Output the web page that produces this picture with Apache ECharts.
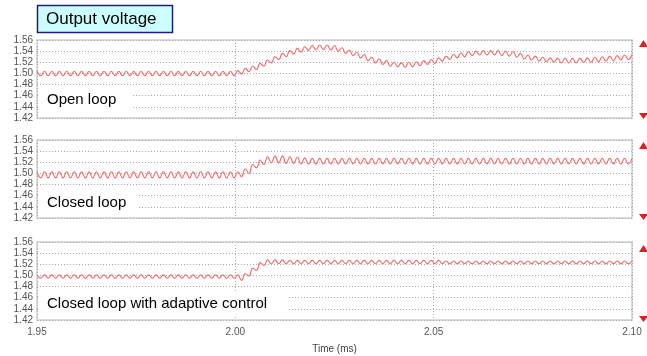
<!DOCTYPE html>
<html>
<head>
<meta charset="utf-8">
<script src="https://cdn.jsdelivr.net/npm/echarts@6/dist/echarts.min.js"></script>
<style>html,body{margin:0;padding:0;background:#fff;}#c{width:647px;height:356px;}</style>
</head>
<body>
<div id="c"></div>
<script>
// sample times: start and half-ripple step (ms)
const T0 = 1.95;
const DT = 0.0009375;
const xTicks = [1.95, 2.00, 2.05, 2.10];
const yTicks = [1.42, 1.44, 1.46, 1.48, 1.50, 1.52, 1.54, 1.56];
const panelLabels = ['Open loop', 'Closed loop', 'Closed loop with adaptive control'];

const openLoop = [
1.504,1.496,1.504,1.496,1.504,1.496,1.504,1.496,1.504,1.496,
1.504,1.496,1.504,1.496,1.504,1.496,1.504,1.496,1.504,1.496,
1.504,1.496,1.504,1.496,1.504,1.496,1.504,1.496,1.504,1.496,
1.504,1.496,1.504,1.496,1.504,1.496,1.504,1.496,1.504,1.496,
1.504,1.496,1.504,1.496,1.504,1.496,1.504,1.496,1.504,1.496,
1.504,1.496,1.504,1.496,
1.505,1.499,1.509,1.503,1.513,1.507,1.518,1.513,1.524,1.519,
1.530,1.525,1.536,1.530,1.541,1.535,1.545,1.538,1.548,1.541,
1.550,1.543,1.551,1.543,1.551,1.542,1.550,1.540,1.546,1.536,
1.542,1.532,1.538,1.528,1.534,1.523,1.529,1.519,1.526,1.516,
1.523,1.513,1.520,1.512,1.519,1.511,1.520,1.512,1.521,1.514,
1.523,1.516,1.525,1.518,1.528,1.522,1.531,1.525,1.534,1.528,
1.537,1.530,1.539,1.532,1.540,1.533,1.541,1.533,1.541,1.533,
1.541,1.532,1.540,1.531,1.539,1.529,1.536,1.526,1.533,1.524,
1.531,1.522,1.529,1.521,1.528,1.520,1.527,1.519,1.527,1.519,
1.527,1.519,1.527,1.520,1.528,1.520,1.529,1.521,1.530,1.522,
1.531,1.523,1.532,1.524,1.533,1.525,1.534
];

const closedLoop = [
1.503,1.492,1.503,1.492,1.503,1.492,1.503,1.492,1.503,1.492,
1.503,1.492,1.503,1.492,1.503,1.492,1.503,1.492,1.503,1.492,
1.503,1.492,1.503,1.492,1.503,1.492,1.503,1.492,1.503,1.492,
1.503,1.492,1.503,1.492,1.503,1.492,1.503,1.492,1.503,1.492,
1.503,1.492,1.503,1.492,1.503,1.492,1.503,1.492,1.503,1.492,
1.503,1.492,1.503,1.492,
1.503,1.494,1.508,1.500,1.516,1.510,1.524,1.516,1.530,1.519,
1.531,1.519,1.531,1.518,1.530,1.518,1.529,1.517,1.528,1.517,
1.527,1.517,1.527,1.517,1.527,1.517,1.527,1.517,1.527,1.517,
1.527,1.517,1.527,1.517,1.527,1.517,1.527,1.517,1.527,1.517,
1.527,1.517,1.527,1.517,1.527,1.517,1.527,1.517,1.527,1.517,
1.527,1.517,1.527,1.517,1.527,1.517,1.527,1.517,1.527,1.517,
1.527,1.517,1.527,1.517,1.527,1.517,1.527,1.517,1.527,1.517,
1.527,1.517,1.527,1.517,1.527,1.517,1.527,1.517,1.527,1.517,
1.527,1.517,1.527,1.517,1.527,1.517,1.527,1.517,1.527,1.517,
1.527,1.517,1.527,1.517,1.527,1.517,1.527,1.517,1.527,1.517,
1.527,1.517,1.527,1.517,1.527,1.517,1.527
];

const adaptive = [
1.501,1.495,1.501,1.495,1.501,1.495,1.501,1.495,1.501,1.495,
1.501,1.495,1.501,1.495,1.501,1.495,1.501,1.495,1.501,1.495,
1.501,1.495,1.501,1.495,1.501,1.495,1.501,1.495,1.501,1.495,
1.501,1.495,1.501,1.495,1.501,1.495,1.501,1.495,1.501,1.495,
1.501,1.495,1.501,1.495,1.501,1.495,1.501,1.495,1.501,1.495,
1.501,1.495,1.501,1.495,
1.501,1.491,1.503,1.499,1.513,1.509,1.523,1.518,1.528,1.521,
1.528,1.521,1.528,1.521,1.527,1.521,1.527,1.521,1.527,1.521,
1.527,1.521,1.527,1.521,1.527,1.521,1.527,1.521,1.527,1.521,
1.527,1.521,1.527,1.521,1.527,1.521,1.527,1.521,1.527,1.521,
1.527,1.521,1.527,1.521,1.527,1.521,1.527,1.521,1.527,1.521,
1.527,1.521,1.527,1.521,1.527,1.521,1.526,1.521,1.526,1.521,
1.526,1.521,1.526,1.521,1.526,1.521,1.526,1.521,1.526,1.521,
1.526,1.521,1.526,1.521,1.526,1.521,1.526,1.521,1.526,1.521,
1.526,1.521,1.526,1.521,1.526,1.521,1.526,1.521,1.526,1.521,
1.526,1.521,1.526,1.521,1.526,1.521,1.526,1.521,1.526,1.521,
1.526,1.521,1.526,1.521,1.526,1.521,1.526
];

const seriesValues = [openLoop, closedLoop, adaptive];
const FONT = '"Liberation Sans", Arial, sans-serif';
const gridTops = [40, 140, 242];
const GH = 78;

const chart = echarts.init(document.getElementById('c'), null, {renderer: 'canvas'});

const grids = [], xAxes = [], yAxes = [], series = [], graphics = [];
gridTops.forEach((top, k) => {
  grids.push({left: 37, right: 15, top: top, height: GH, show: true,
    backgroundColor: '#fff', borderColor: '#cfcfcf', borderWidth: 1.5});
  xAxes.push({
    gridIndex: k, type: 'value', min: xTicks[0], max: xTicks[xTicks.length - 1], interval: 0.05,
    axisLine: {show: false}, axisTick: {show: false},
    axisLabel: {show: k === 2, formatter: v => v.toFixed(2), color: '#555', fontSize: 10, fontFamily: FONT, margin: 7},
    splitLine: {show: true, lineStyle: {type: [1, 2], color: '#aaa', width: 1}},
    name: k === 2 ? 'Time (ms)' : '', nameLocation: 'middle', nameGap: 24,
    nameTextStyle: {fontSize: 10, color: '#444', fontFamily: FONT}
  });
  yAxes.push({
    gridIndex: k, type: 'value', min: yTicks[0], max: yTicks[yTicks.length - 1], interval: 0.02,
    axisLine: {show: false}, axisTick: {show: false},
    axisLabel: {formatter: v => v.toFixed(2), color: '#555', fontSize: 10, fontFamily: FONT, margin: 4},
    splitLine: {show: true, lineStyle: {type: [1, 2], color: '#aaa', width: 1}}
  });
  series.push({
    type: 'line', xAxisIndex: k, yAxisIndex: k, showSymbol: false, smooth: 0.5,
    lineStyle: {color: '#f06a6a', width: 1.1}, silent: true,
    data: seriesValues[k].map((v, i) => [T0 + i * DT, v])
  });
});

// panel label boxes
const labelBoxes = [
  {x: 39, y: 88, w: 92, h: 24, ty: 100},
  {x: 39, y: 190, w: 100, h: 25, ty: 203},
  {x: 39, y: 292, w: 248, h: 25, ty: 304}
];
labelBoxes.forEach((b, k) => {
  graphics.push({type: 'rect', z: 100, shape: {x: b.x, y: b.y, width: b.w, height: b.h}, style: {fill: '#fff'}});
  graphics.push({type: 'text', z: 101, x: 47, y: b.ty, style: {text: panelLabels[k], font: '15px ' + FONT, fill: '#000', textVerticalAlign: 'middle', verticalAlign: 'middle'}});
});

// title box
graphics.push({type: 'rect', z: 100, shape: {x: 37.5, y: 5.5, width: 135, height: 27}, style: {fill: '#ccfefe', stroke: '#1e1e82', lineWidth: 1.5}});
graphics.push({type: 'text', z: 101, x: 46, y: 19.5, style: {text: 'Output voltage', font: '17px ' + FONT, fill: '#000', verticalAlign: 'middle', textVerticalAlign: 'middle'}});

// red scroll triangles on the right
const tri = [[40, 113], [142, 214], [245, 316]];
tri.forEach(([a, b]) => {
  graphics.push({type: 'polygon', z: 100, shape: {points: [[639, a + 7], [643.5, a], [648, a + 7]]}, style: {fill: '#e02020'}});
  graphics.push({type: 'polygon', z: 100, shape: {points: [[639, b], [648, b], [643.5, b + 6]]}, style: {fill: '#e02020'}});
});

chart.setOption({
  animation: false,
  backgroundColor: '#fff',
  grid: grids, xAxis: xAxes, yAxis: yAxes, series: series,
  graphic: graphics
});
</script>
</body>
</html>
